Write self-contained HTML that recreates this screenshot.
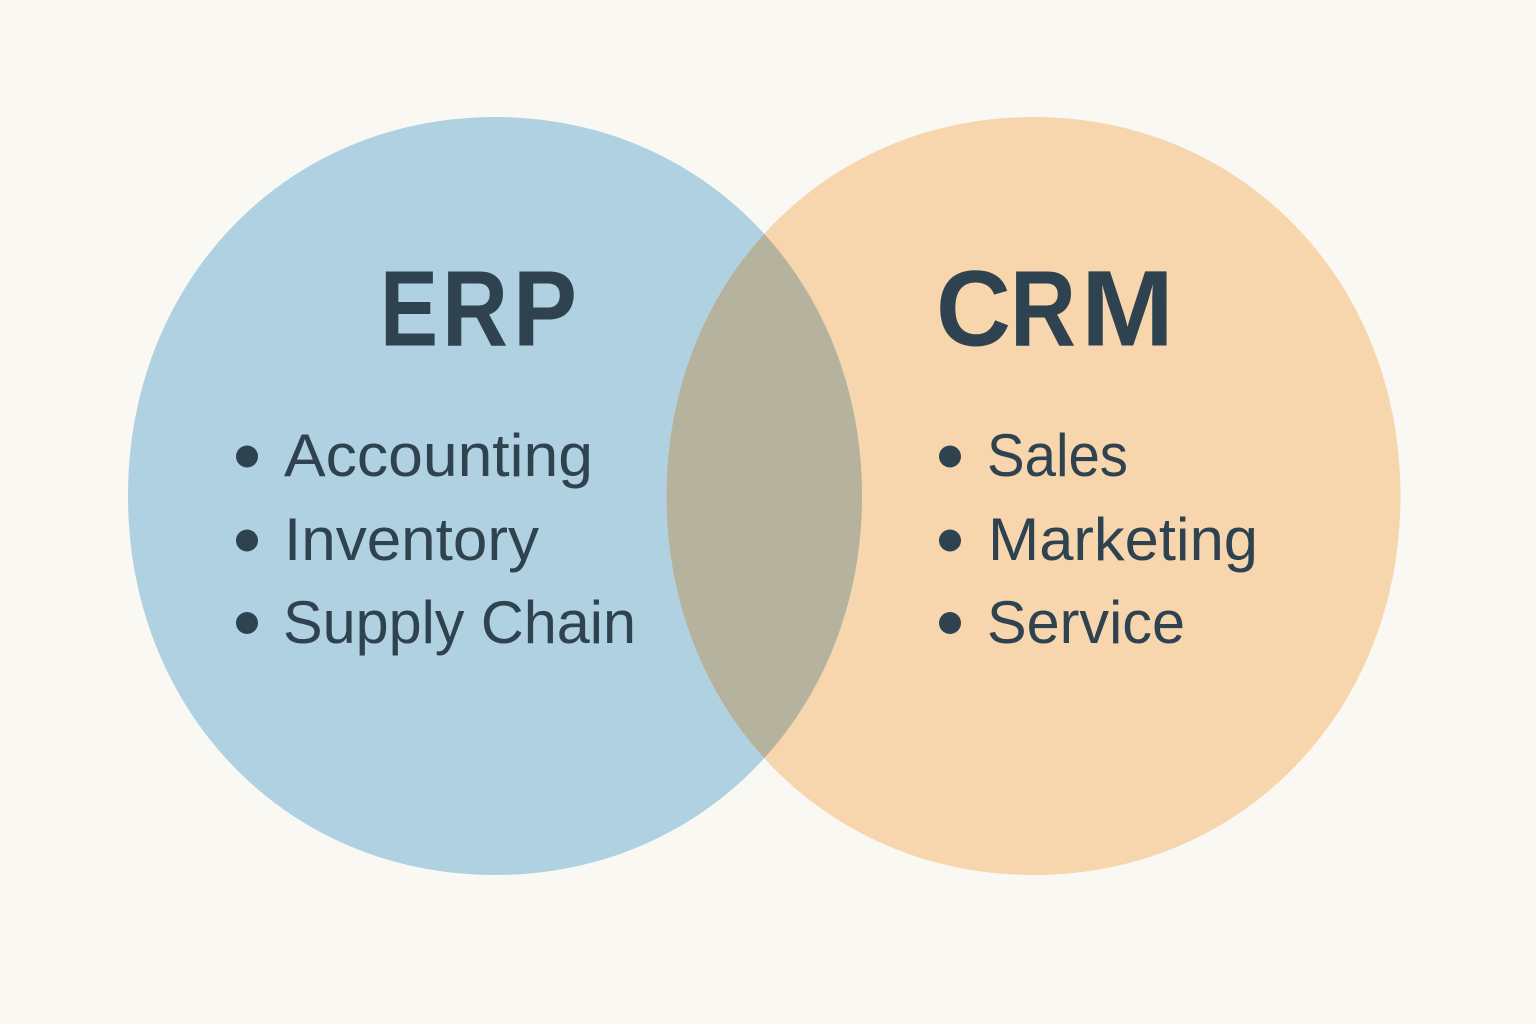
<!DOCTYPE html>
<html>
<head>
<meta charset="utf-8">
<style>
html,body{margin:0;padding:0;width:1536px;height:1024px;background:#faf8f3;overflow:hidden}
svg{display:block}
text{font-family:"Liberation Sans",sans-serif;fill:#2e4250}
.t{font-size:108px;font-weight:700}
.i{font-size:60px}
</style>
</head>
<body>
<svg width="1536" height="1024" viewBox="0 0 1536 1024" xmlns="http://www.w3.org/2000/svg">
<defs>
<clipPath id="c"><path d="M862 496C862 711.3 703.5 875 495 875C286.5 875 128 711.3 128 496C128 280.7 286.500 117 495 117C703.5 117 862 280.7 862 496Z"/></clipPath>
</defs>
<rect width="1536" height="1024" fill="#faf8f3"/>
<path d="M862 496C862 711.3 703.5 875 495 875C286.5 875 128 711.3 128 496C128 280.7 286.500 117 495 117C703.5 117 862 280.7 862 496Z" fill="#b0d1e1"/>
<path d="M1400.5 496C1400.5 711.3 1242 875 1033.5 875C825 875 666.5 711.3 666.5 496C666.5 280.7 825 117 1033.5 117C1242 117 1400.5 280.7 1400.5 496Z" fill="#f8d6ad"/>
<path d="M1400.5 496C1400.5 711.3 1242 875 1033.5 875C825 875 666.5 711.3 666.5 496C666.5 280.7 825 117 1033.5 117C1242 117 1400.5 280.7 1400.5 496Z" fill="#b5b39d" clip-path="url(#c)"/>
<text class="t" x="380" y="345.5" textLength="58" lengthAdjust="spacingAndGlyphs">E</text>
<text class="t" x="442" y="345.5" textLength="66" lengthAdjust="spacingAndGlyphs">R</text>
<text class="t" x="513" y="345.5" textLength="64" lengthAdjust="spacingAndGlyphs">P</text>
<text class="t" x="936" y="345.5" textLength="75" lengthAdjust="spacingAndGlyphs">C</text>
<text class="t" x="1010" y="345.5" textLength="66" lengthAdjust="spacingAndGlyphs">R</text>
<text class="t" x="1081" y="345.5" textLength="93" lengthAdjust="spacingAndGlyphs">M</text>
<circle cx="247" cy="456.500" r="11" fill="#2e4250"/>
<circle cx="247" cy="540.500" r="11" fill="#2e4250"/>
<circle cx="247" cy="623" r="11" fill="#2e4250"/>
<circle cx="950" cy="456.500" r="11" fill="#2e4250"/>
<circle cx="950" cy="540.500" r="11" fill="#2e4250"/>
<circle cx="950" cy="623" r="11" fill="#2e4250"/>
<text class="i" x="284" y="476" textLength="309" lengthAdjust="spacingAndGlyphs">Accounting</text>
<text class="i" x="284" y="560" textLength="255" lengthAdjust="spacingAndGlyphs">Inventory</text>
<text class="i" x="283" y="643" textLength="353" lengthAdjust="spacingAndGlyphs">Supply Chain</text>
<text class="i" x="987" y="476" textLength="141" lengthAdjust="spacingAndGlyphs">Sales</text>
<text class="i" x="988" y="560" textLength="270" lengthAdjust="spacingAndGlyphs">Marketing</text>
<text class="i" x="987" y="643" textLength="198" lengthAdjust="spacingAndGlyphs">Service</text>
</svg>
</body>
</html>
